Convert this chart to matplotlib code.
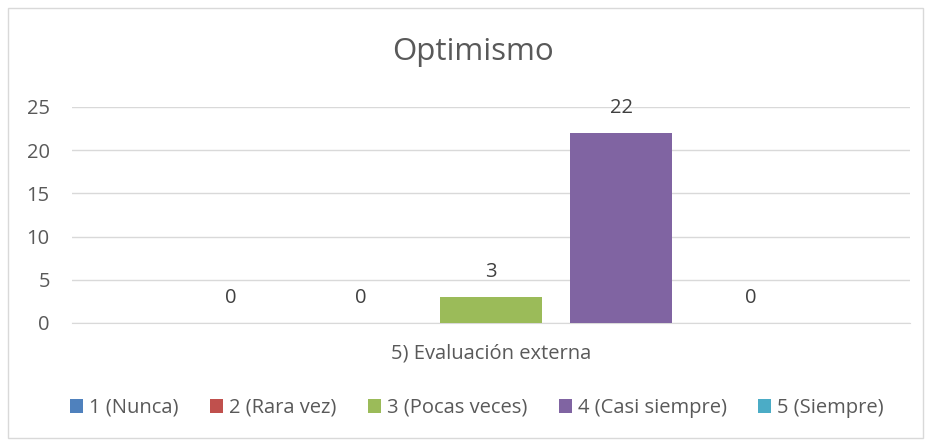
import matplotlib.pyplot as plt
from matplotlib.patches import Rectangle

# data
categories = ["1 (Nunca)", "2 (Rara vez)", "3 (Pocas veces)", "4 (Casi siempre)", "5 (Siempre)"]
values = [0, 0, 3, 22, 0]
colors = ["#4f81bd", "#c0504d", "#9bbb59", "#8064a2", "#4bacc6"]
group_label = "5) Evaluación externa"
title = "Optimismo"
yticks = [0, 5, 10, 15, 20, 25]

plt.rcParams["font.family"] = ["Open Sans", "DejaVu Sans"]
text_color = "#595959"
fs = 14.5

fig = plt.figure(figsize=(9.27, 4.42), dpi=100)
W, H = 927, 442
ax = fig.add_axes([72 / W, 1 - 323 / H, (910 - 72) / W, (323 - 107) / H])

for i, (cat, v, c) in enumerate(zip(categories, values, colors)):
    ax.bar(i, v, width=0.785, color=c, label=cat, zorder=3)
    ax.text(i, v + 2.9, str(v), ha="center", va="center", fontsize=fs, color="#404040")

ax.set_xlim(2 - 3.223, 2 + 3.223)
ax.set_ylim(0, 25)
ax.set_yticks(yticks)
ax.set_xticks([])
ax.tick_params(axis="y", length=0, pad=16, labelsize=fs, labelcolor=text_color)
ax.grid(axis="y", color="#d9d9d9", linewidth=1, zorder=0)
for s in ["top", "right", "left"]:
    ax.spines[s].set_visible(False)
ax.spines["bottom"].set_color("#d9d9d9")

fig.text(491 / W, 1 - 354 / H, group_label, ha="center", va="center", fontsize=fs, color=text_color)
fig.text(473 / W, 1 - 52 / H, title, ha="center", va="center", fontsize=22.5, color=text_color)

handles, labels = ax.get_legend_handles_labels()
fig.legend(handles, labels, loc="center", bbox_to_anchor=(477 / W, 1 - 408 / H), ncol=5,
           frameon=False, fontsize=fs, labelcolor=text_color, handlelength=0.65,
           handleheight=0.65, handletextpad=0.3, columnspacing=1.55)

fig.patches.append(Rectangle((8 / W, 4 / H), (923 - 8) / W, (438 - 8) / H,
                             transform=fig.transFigure, fill=False, edgecolor="#d9d9d9", linewidth=1))

fig.savefig("out.png", dpi=100, facecolor="white")
